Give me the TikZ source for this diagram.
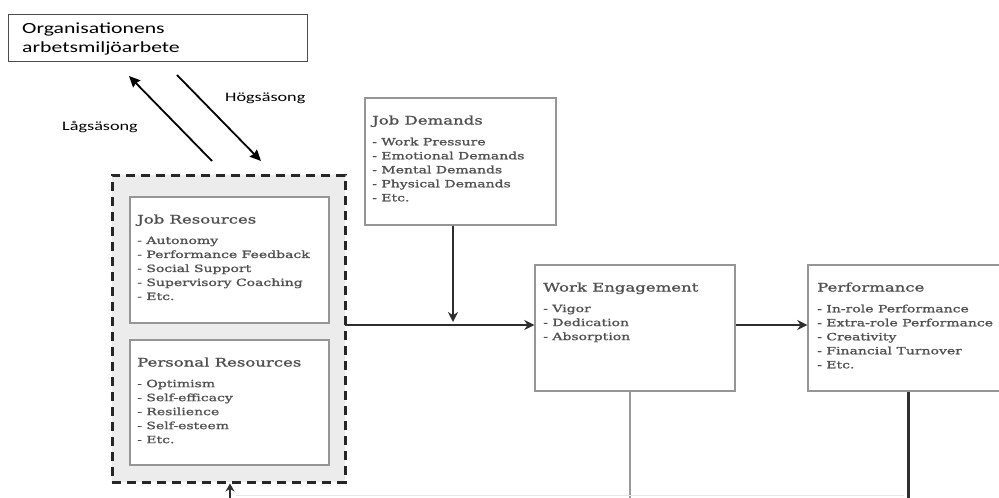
\documentclass[tikz,border=0pt]{standalone}
\usepackage{fontspec}
\setmainfont[FakeStretch=1.4,FakeBold=1.2]{DejaVu Serif}
\newfontfamily\labelfont[FakeStretch=1.4]{Carlito}
\usetikzlibrary{arrows.meta}
\definecolor{boxtext}{HTML}{505050}
\definecolor{boxline}{HTML}{959595}
\definecolor{panel}{HTML}{ECECEC}
\definecolor{ink}{HTML}{2E2E2E}
\begin{document}
\begin{tikzpicture}[x=1pt,y=-1pt,
  modelbox/.style={draw=boxline,line width=1.4pt,fill=white,rectangle,inner sep=0pt},
  boxhead/.style={anchor=base west,inner sep=0pt,text=boxtext,font=\fontsize{11.8}{14}\selectfont},
  boxlist/.style={anchor=north west,inner sep=0pt,text=boxtext,align=left,font=\fontsize{10}{14}\selectfont},
  seasonlabel/.style={inner sep=0pt,anchor=base west,font=\labelfont\fontsize{13}{15}\selectfont},
  flow/.style={draw=ink,line width=2.8pt,-{Stealth[length=10pt,width=10pt]}},
  thinflow/.style={draw=black,line width=1.8pt,-{Stealth[length=11pt,width=10pt,inset=1pt]}}]
\useasboundingbox (0,0) rectangle (999,498);
\fill[white] (0,0) rectangle (999,498);

% organisation box
\node[draw=black!70,line width=1pt,minimum width=299pt,minimum height=47pt,inner sep=0pt] (org) at (157.5,37.5) {};
\node[anchor=north west,inner sep=0pt,align=left,font=\labelfont\fontsize{15.5}{18.5}\selectfont] (orgtext) at (22,23) {Organisationens\\arbetsmiljöarbete};

% resources panel
\node[draw=black!85,dash pattern=on 9pt off 6pt,line width=3pt,fill=panel,minimum width=233pt,minimum height=307pt,inner sep=0pt] (panel) at (228.5,328.5) {};
\node[modelbox,minimum width=199pt,minimum height=126pt] (jr) at (229.5,260) {};
\node[boxhead] (jrhead) at (137,223.5) {Job Resources};
\node[boxlist] (jrlist) at (137,236.5) {- Autonomy\\- Performance Feedback\\- Social Support\\- Supervisory Coaching\\- Etc.};
\node[modelbox,minimum width=199pt,minimum height=125pt] (pr) at (229.5,402.5) {};
\node[boxhead] (prhead) at (137,366.5) {Personal Resources};
\node[boxlist] (prlist) at (137,379.5) {- Optimism\\- Self-efficacy\\- Resilience\\- Self-esteem\\- Etc.};

% job demands
\node[modelbox,minimum width=191pt,minimum height=127pt] (jd) at (460.5,161.5) {};
\node[boxhead] (jdhead) at (372,124.5) {Job Demands};
\node[boxlist] (jdlist) at (372,137.5) {- Work Pressure\\- Emotional Demands\\- Mental Demands\\- Physical Demands\\- Etc.};

% work engagement
\node[modelbox,minimum width=200pt,minimum height=126pt] (we) at (635,328) {};
\node[boxhead] (wehead) at (543,291.5) {Work Engagement};
\node[boxlist] (welist) at (543,304.5) {- Vigor\\- Dedication\\- Absorption};

% performance
\node[modelbox,minimum width=200pt,minimum height=126pt] (perf) at (908,328) {};
\node[boxhead] (perfhead) at (817,291.5) {Performance};
\node[boxlist] (perflist) at (817,304.5) {- In-role Performance\\- Extra-role Performance\\- Creativity\\- Financial Turnover\\- Etc.};

% season arrows
\coordinate (lowstart) at (212,161);
\coordinate (lowend) at (129,76);
\coordinate (highstart) at (177,75);
\coordinate (highend) at (261,161);
\draw[thinflow] (lowstart) -- (lowend);
\draw[thinflow] (highstart) -- (highend);
\node[seasonlabel] (low) at (62,130) {Lågsäsong};
\node[seasonlabel] (high) at (225,101.5) {Högsäsong};

% model connectors
\coordinate (join) at (345,325);
\draw[flow] (join) -- (we.west |- join);
\draw[flow] (jd.south -| 453,0) -- (453,322);
\draw[flow] (we.east |- join) -- (perf.west |- join);
\coordinate (webottom) at (630,498);
\coordinate (perfbottom) at (908,498);
\coordinate (feedbase) at (230,498);
\draw[draw=black!40,line width=1.5pt] (we.south -| webottom) -- (webottom);
\draw[draw=ink,line width=3pt] (perf.south -| perfbottom) -- (perfbottom);
\draw[draw=black!10,line width=1pt] (236,495) -- (904,495);
\draw[draw=ink,line width=2.6pt,-{Stealth[length=8pt,width=9pt]}] (feedbase) -- (panel.south -| feedbase);
\end{tikzpicture}
\end{document}
